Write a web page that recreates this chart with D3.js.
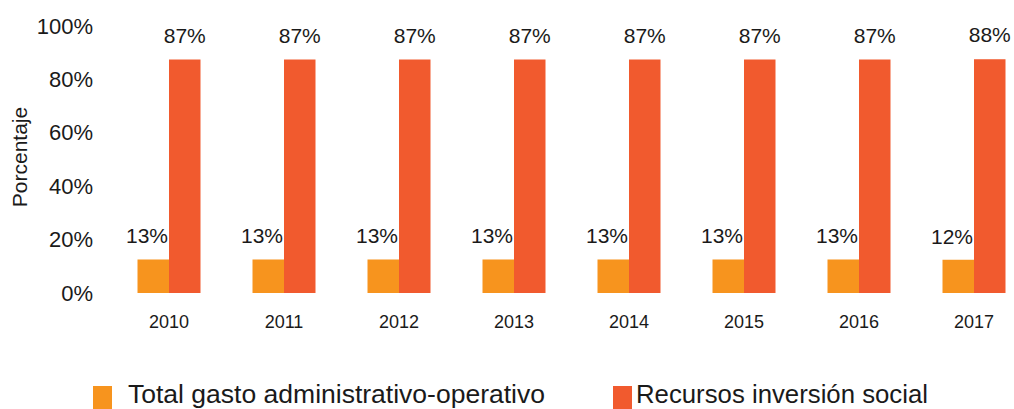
<!DOCTYPE html>
<html>
<head>
<meta charset="utf-8">
<script src="https://cdn.jsdelivr.net/npm/d3@7"></script>
<style>
  body { margin: 0; background: #fff; }
  text { font-family: "Liberation Sans", Arial, sans-serif; fill: #1a1a1a; }
</style>
</head>
<body>
<div id="chart"></div>
<script>
// data
const years = ["2010", "2011", "2012", "2013", "2014", "2015", "2016", "2017"];
const seriesNames = ["Total gasto administrativo-operativo", "Recursos inversión social"];
const gastoAdmin = [12.55, 12.55, 12.55, 12.55, 12.55, 12.55, 12.55, 12.45];
const inversionSocial = [87.45, 87.45, 87.45, 87.45, 87.45, 87.45, 87.45, 87.55];
const yTicks = [0, 20, 40, 60, 80, 100];
const colors = ["#f7941e", "#f15a2e"];

const width = 1014, height = 409;

let svg = d3.select("#chart")
    .append("svg")
    .attr("width", width)
    .attr("height", height);

// x scale for the year groups, and one inside each group for the two series
let x0 = d3.scaleBand()
    .domain(years)
    .range([111.5, 1031.5]);

let x1 = d3.scaleBand()
    .domain([0, 1])
    .range([x0.bandwidth() / 2 - 31.5, x0.bandwidth() / 2 + 31.5]);

let y = d3.scaleLinear()
    .domain([0, 100])
    .range([293, 26]);

// y axis labels only, no line
let yAxis = svg.append("g")
    .attr("transform", "translate(93,0)")
    .call(d3.axisLeft(y).tickValues(yTicks).tickSize(0).tickPadding(0).tickFormat(d => d + "%"));
yAxis.select(".domain").remove();
yAxis.selectAll("text")
    .attr("font-size", 22)
    .attr("font-family", "Liberation Sans, Arial, sans-serif")
    .attr("fill", "#1a1a1a");

// x axis year labels
let xAxis = svg.append("g")
    .attr("transform", "translate(0,293)")
    .call(d3.axisBottom(x0).tickSize(0).tickPadding(22));
xAxis.select(".domain").remove();
xAxis.selectAll("text")
    .attr("font-size", 18)
    .attr("font-family", "Liberation Sans, Arial, sans-serif")
    .attr("fill", "#1a1a1a");

// y axis title
svg.append("text")
    .attr("transform", "translate(27,157) rotate(-90)")
    .attr("text-anchor", "middle")
    .attr("font-size", 21)
    .text("Porcentaje");

let rows = years.map((yr, i) => ({ year: yr, values: [gastoAdmin[i], inversionSocial[i]] }));

let groups = svg.selectAll(".group")
    .data(rows)
    .enter().append("g")
    .attr("class", "group")
    .attr("transform", d => "translate(" + x0(d.year) + ",0)");

groups.selectAll("rect")
    .data(d => d.values.map((v, k) => ({ k: k, v: v })))
    .enter().append("rect")
    .attr("x", d => x1(d.k))
    .attr("width", x1.bandwidth())
    .attr("y", d => y(d.v))
    .attr("height", d => y(0) - y(d.v))
    .attr("fill", d => colors[d.k]);

// value labels: the small series sits right-aligned to its bar, the big one centred
groups.selectAll(".val")
    .data(d => d.values.map((v, k) => ({ k: k, v: v })))
    .enter().append("text")
    .attr("class", "val")
    .attr("font-size", 21)
    .attr("text-anchor", d => d.k === 0 ? "end" : "middle")
    .attr("x", d => d.k === 0 ? x1(0) + x1.bandwidth() - 1 : x1(1) + x1.bandwidth() / 2)
    .attr("y", d => y(d.v) - (d.k === 0 ? 16 : 17))
    .text(d => Math.round(d.v) + "%");

// legend
const legendX = [93, 613], legendTextX = [128, 636], legendLen = [417, 292];
let legend = svg.selectAll(".legend")
    .data(seriesNames)
    .enter().append("g")
    .attr("class", "legend");

legend.append("rect")
    .attr("x", (d, i) => legendX[i])
    .attr("y", 386)
    .attr("width", 19)
    .attr("height", 23)
    .attr("fill", (d, i) => colors[i]);

legend.append("text")
    .attr("x", (d, i) => legendTextX[i])
    .attr("y", 403)
    .attr("font-size", 25)
    .attr("font-family", "Roboto, sans-serif")
    .attr("textLength", (d, i) => legendLen[i])
    .attr("lengthAdjust", "spacingAndGlyphs")
    .text(d => d);
</script>
</body>
</html>
